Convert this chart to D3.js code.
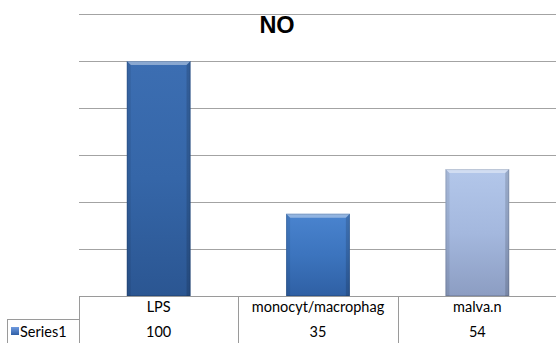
<!DOCTYPE html>
<html>
<head>
<meta charset="utf-8">
<script src="https://cdn.jsdelivr.net/npm/d3@7"></script>
<style>
  html, body { margin: 0; padding: 0; background: #fff; }
  svg { display: block; }
</style>
</head>
<body>
<svg id="chart" width="556" height="343"></svg>
<script>
// Chart data
const categories = ["LPS", "monocyt/macrophag", "malva.n"];
const values = [100, 35, 54];
const seriesName = "Series1";
const yTicks = [0, 20, 40, 60, 80, 100, 120];
const chartTitle = "NO";

// Per-bar colours (top / middle / bottom of the vertical gradient)
const barColors = [
  { top: "#3c6eb2", mid: "#3566a8", bot: "#2b5692" },
  { top: "#4a84cf", mid: "#3c74be", bot: "#2f60a4" },
  { top: "#b3c7ea", mid: "#a4b8de", bot: "#8c9dc2" }
];

const W = 556, H = 343;
const plot = { left: 79, right: 557, top: 14, bottom: 296 };
const tableFont = "Lato, 'Open Sans', sans-serif";
const tableFontSize = 14.5;

const svg = d3.select("#chart");
const defs = svg.append("defs");

const x = d3.scaleBand()
  .domain(categories)
  .range([plot.left, plot.right])
  .paddingInner(0.6)
  .paddingOuter(0.3);

const y = d3.scaleLinear()
  .domain([0, 120])
  .range([plot.bottom, plot.top]);

// Horizontal gridlines
svg.append("g")
  .selectAll("line")
  .data(yTicks.filter(t => t > 0))
  .join("line")
  .attr("x1", plot.left)
  .attr("x2", W)
  .attr("y1", d => Math.round(y(d)) + 0.5)
  .attr("y2", d => Math.round(y(d)) + 0.5)
  .attr("stroke", "#a3a3a3")
  .attr("stroke-width", 1.2);

// Gradients for bars
barColors.forEach((c, i) => {
  const g = defs.append("linearGradient")
    .attr("id", "barGrad" + i)
    .attr("x1", 0).attr("y1", 0).attr("x2", 0).attr("y2", 1);
  g.append("stop").attr("offset", "0%").attr("stop-color", c.top);
  g.append("stop").attr("offset", "50%").attr("stop-color", c.mid);
  g.append("stop").attr("offset", "100%").attr("stop-color", c.bot);
});

// Bars with a soft bevel
const bev = 4;
const bars = svg.append("g")
  .selectAll("g")
  .data(categories.map((c, i) => ({ cat: c, value: values[i], i })))
  .join("g");

bars.each(function (d) {
  const g = d3.select(this);
  const x0 = x(d.cat), x1 = x0 + x.bandwidth();
  const y0 = y(d.value), y1 = y(0);
  g.append("rect")
    .attr("x", x0).attr("y", y0)
    .attr("width", x1 - x0).attr("height", y1 - y0)
    .attr("fill", `url(#barGrad${d.i})`);
  // top facet (light)
  g.append("path")
    .attr("d", `M${x0},${y0}L${x1},${y0}L${x1 - bev},${y0 + bev}L${x0 + bev},${y0 + bev}Z`)
    .attr("fill", "#ffffff").attr("fill-opacity", 0.4);
  // left facet
  g.append("path")
    .attr("d", `M${x0},${y0}L${x0 + bev},${y0 + bev}L${x0 + bev},${y1}L${x0},${y1}Z`)
    .attr("fill", "#000").attr("fill-opacity", 0.08);
  // right facet
  g.append("path")
    .attr("d", `M${x1},${y0}L${x1 - bev},${y0 + bev}L${x1 - bev},${y1}L${x1},${y1}Z`)
    .attr("fill", "#000").attr("fill-opacity", 0.14);
  // outline
  g.append("rect")
    .attr("x", x0 + 0.5).attr("y", y0 + 0.5)
    .attr("width", x1 - x0 - 1).attr("height", y1 - y0 - 1)
    .attr("fill", "none")
    .attr("stroke", "#000").attr("stroke-opacity", 0.12);
});

// Title
svg.append("text")
  .attr("x", 277)
  .attr("y", 33)
  .attr("text-anchor", "middle")
  .attr("font-family", "Arial, 'Liberation Sans', sans-serif")
  .attr("font-weight", "bold")
  .attr("font-size", 23.5)
  .attr("fill", "#000")
  .text(chartTitle);

// Data table under the category axis
const tbl = svg.append("g").attr("stroke", "#9a9a9a").attr("stroke-width", 1);
const rowDiv = 319;
tbl.append("line")
  .attr("x1", plot.left).attr("x2", W)
  .attr("y1", plot.bottom + 0.5).attr("y2", plot.bottom + 0.5);
// column separators at category boundaries
const bounds = categories.map(c => x(c) - x.step() * x.paddingInner() / 2);
bounds[0] = plot.left;
bounds.forEach(b => {
  tbl.append("line")
    .attr("x1", Math.round(b) + 0.5).attr("x2", Math.round(b) + 0.5)
    .attr("y1", plot.bottom).attr("y2", H);
});
// series-name cell
tbl.append("line")
  .attr("x1", 7.5).attr("x2", plot.left)
  .attr("y1", rowDiv + 0.5).attr("y2", rowDiv + 0.5);
tbl.append("line")
  .attr("x1", 7.5).attr("x2", 7.5)
  .attr("y1", rowDiv).attr("y2", H);

// category labels
svg.append("g")
  .selectAll("text")
  .data(categories)
  .join("text")
  .attr("x", d => x(d) + x.bandwidth() / 2)
  .attr("y", 312)
  .attr("text-anchor", "middle")
  .attr("font-family", tableFont)
  .attr("font-size", tableFontSize)
  .attr("fill", "#000")
  .text(d => d);

// values
svg.append("g")
  .selectAll("text")
  .data(categories.map((c, i) => ({ c, v: values[i] })))
  .join("text")
  .attr("x", d => x(d.c) + x.bandwidth() / 2)
  .attr("y", 337)
  .attr("text-anchor", "middle")
  .attr("font-family", tableFont)
  .attr("font-size", tableFontSize)
  .attr("fill", "#000")
  .text(d => d.v);

// legend key + series name
const keyGrad = defs.append("linearGradient")
  .attr("id", "keyGrad").attr("x1", 0).attr("y1", 0).attr("x2", 0).attr("y2", 1);
keyGrad.append("stop").attr("offset", "0%").attr("stop-color", "#6f9be0");
keyGrad.append("stop").attr("offset", "100%").attr("stop-color", "#2f5fa6");
svg.append("rect")
  .attr("x", 11).attr("y", 327)
  .attr("width", 8).attr("height", 8)
  .attr("fill", "url(#keyGrad)");
svg.append("text")
  .attr("x", 20).attr("y", 337)
  .attr("font-family", tableFont)
  .attr("font-size", tableFontSize)
  .attr("fill", "#000")
  .text(seriesName);
</script>
</body>
</html>
